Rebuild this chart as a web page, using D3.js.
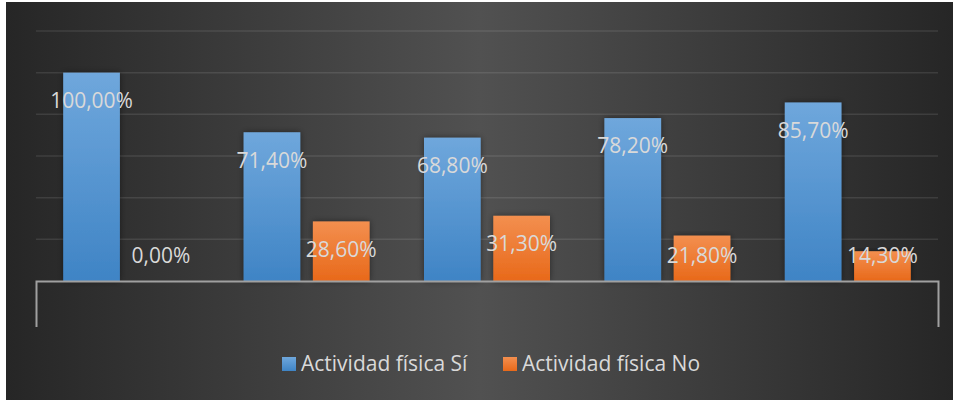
<!DOCTYPE html>
<html>
<head>
<meta charset="utf-8">
<script src="https://cdn.jsdelivr.net/npm/d3@7"></script>
<style>
  body { margin: 0; background: #fff; }
  svg { display: block; }
</style>
</head>
<body>
<svg id="chart" width="955" height="400"></svg>
<script>
// categories have no visible labels in the original
var categories = ['g1', 'g2', 'g3', 'g4', 'g5'];
var seriesNames = ['Actividad física Sí', 'Actividad física No'];
var siValues = [1.000, 0.714, 0.688, 0.782, 0.857];
var noValues = [0.000, 0.286, 0.313, 0.218, 0.143];
var yTicks = [0, 0.2, 0.4, 0.6, 0.8, 1.0, 1.2];

var svg = d3.select('#chart');
var W = 955, H = 400;
var plot = { left: 36, right: 938, top: 31, bottom: 281 };

var defs = svg.append('defs');

var bg = defs.append('linearGradient').attr('id', 'bgGrad')
    .attr('x1', '0%').attr('x2', '100%').attr('y1', '0%').attr('y2', '0%');
bg.append('stop').attr('offset', '0%').attr('stop-color', '#262626');
bg.append('stop').attr('offset', '50%').attr('stop-color', '#515151');
bg.append('stop').attr('offset', '100%').attr('stop-color', '#262626');

var colors = [
    { id: 'blueGrad', top: '#6fa7dc', bottom: '#3f84c5', key: '#5b9bd5' },
    { id: 'orangeGrad', top: '#f38f4f', bottom: '#e8691a', key: '#ed7d31' }
];
colors.forEach(function(c) {
    var g = defs.append('linearGradient').attr('id', c.id)
        .attr('x1', '0%').attr('x2', '0%').attr('y1', '0%').attr('y2', '100%');
    g.append('stop').attr('offset', '0%').attr('stop-color', c.top);
    g.append('stop').attr('offset', '100%').attr('stop-color', c.bottom);
});

var shadow = defs.append('filter').attr('id', 'shadow')
    .attr('x', '-30%').attr('y', '-10%').attr('width', '160%').attr('height', '120%');
shadow.append('feDropShadow').attr('dx', 0).attr('dy', 0).attr('stdDeviation', 3)
    .attr('flood-color', '#000').attr('flood-opacity', 0.45);

svg.append('rect')
    .attr('x', 6).attr('y', 2).attr('width', W - 8).attr('height', H - 2)
    .attr('fill', 'url(#bgGrad)');

var y = d3.scaleLinear().domain([0, 1.2]).range([plot.bottom, plot.top]);
var x0 = d3.scaleBand().domain(categories).range([plot.left, plot.right]).padding(0);
var x1 = d3.scaleBand().domain([0, 1]).range([0, x0.bandwidth()])
    .paddingInner(0.182).paddingOuter(0.3925);

// gridlines
svg.append('g').selectAll('line').data(yTicks.slice(1)).join('line')
    .attr('x1', plot.left).attr('x2', plot.right)
    .attr('y1', function(d) { return y(d); }).attr('y2', function(d) { return y(d); })
    .attr('stroke', '#ffffff').attr('stroke-opacity', 0.1).attr('stroke-width', 1.5);

var rows = categories.map(function(c, i) { return { cat: c, vals: [siValues[i], noValues[i]] }; });

var groups = svg.append('g').selectAll('g').data(rows).join('g')
    .attr('transform', function(d) { return 'translate(' + x0(d.cat) + ',0)'; });

groups.selectAll('rect').data(function(d) { return d.vals; }).join('rect')
    .attr('x', function(d, i) { return x1(i); })
    .attr('width', x1.bandwidth())
    .attr('y', function(d) { return y(d); })
    .attr('height', function(d) { return y(0) - y(d); })
    .attr('fill', function(d, i) { return 'url(#' + colors[i].id + ')'; })
    .attr('filter', 'url(#shadow)');

// axis line with end ticks
var axis = d3.axisBottom(x0).tickFormat('').tickSize(0).tickSizeOuter(46);
var ax = svg.append('g').attr('transform', 'translate(0,' + plot.bottom + ')').call(axis);
ax.select('.domain').attr('stroke', '#a0a0a0').attr('stroke-width', 2).attr('fill', 'none');
ax.selectAll('.tick').remove();

// data labels
var fmt = function(v) { return d3.format('.2f')(v * 100).replace('.', ',') + '%'; };
groups.selectAll('text').data(function(d) { return d.vals; }).join('text')
    .attr('x', function(d, i) { return x1(i) + x1.bandwidth() / 2; })
    .attr('y', function(d) { return Math.min(y(d) + 28, 256); })
    .attr('dy', '0.35em')
    .attr('text-anchor', 'middle')
    .attr('font-family', 'Open Sans, sans-serif')
    .attr('font-size', 21)
    .attr('fill', '#d9d9d9')
    .text(fmt);

// legend
var legendX = [282, 503];
var legend = svg.append('g').selectAll('g').data(seriesNames).join('g')
    .attr('transform', function(d, i) { return 'translate(' + legendX[i] + ',357)'; });
legend.append('rect').attr('width', 14).attr('height', 14)
    .attr('fill', function(d, i) { return 'url(#' + colors[i].id + ')'; });
legend.append('text')
    .attr('x', 19).attr('y', 14)
    .attr('font-family', 'Open Sans, sans-serif')
    .attr('font-size', 21)
    .attr('fill', '#d9d9d9')
    .text(function(d) { return d; });
</script>
</body>
</html>
